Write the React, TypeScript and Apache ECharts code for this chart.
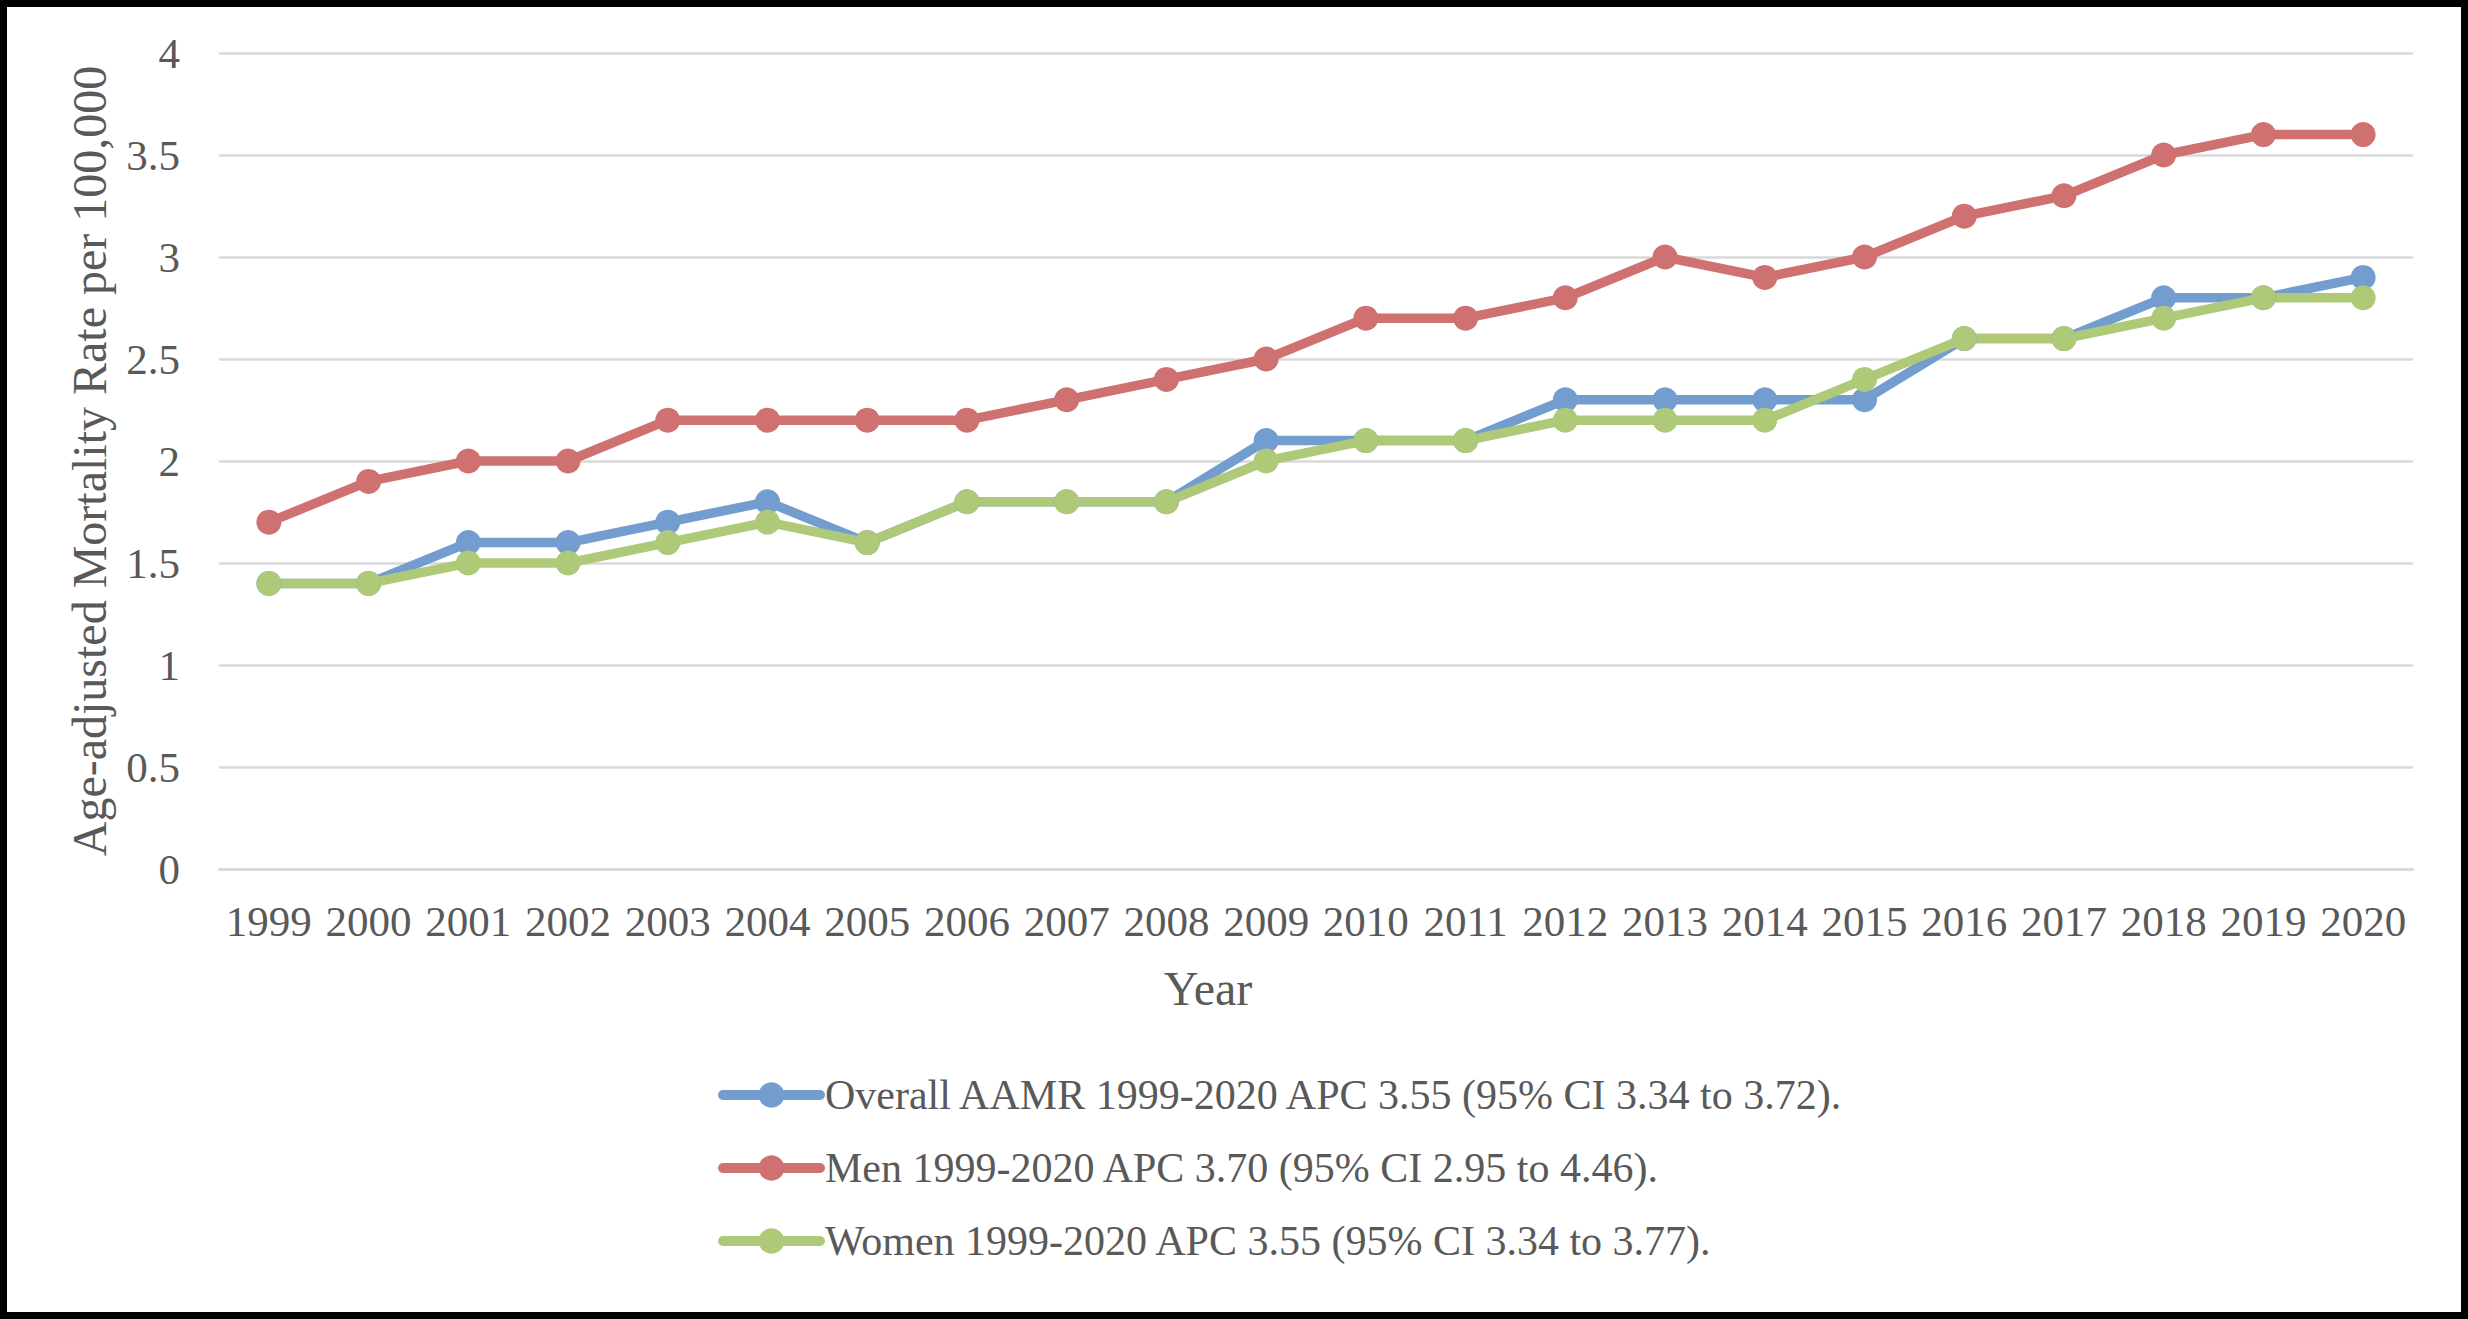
import React, { useEffect, useRef } from "react";
import * as echarts from "echarts";

const years = ["1999","2000","2001","2002","2003","2004","2005","2006","2007","2008","2009","2010","2011","2012","2013","2014","2015","2016","2017","2018","2019","2020"];
const overall = [1.4,1.4,1.6,1.6,1.7,1.8,1.6,1.8,1.8,1.8,2.1,2.1,2.1,2.3,2.3,2.3,2.3,2.6,2.6,2.8,2.8,2.9];
const men = [1.7,1.9,2.0,2.0,2.2,2.2,2.2,2.2,2.3,2.4,2.5,2.7,2.7,2.8,3.0,2.9,3.0,3.2,3.3,3.5,3.6,3.6];
const women = [1.4,1.4,1.5,1.5,1.6,1.7,1.6,1.8,1.8,1.8,2.0,2.1,2.1,2.2,2.2,2.2,2.4,2.6,2.6,2.7,2.8,2.8];
const seriesNames = [
  "Overall AAMR 1999-2020 APC 3.55 (95% CI 3.34 to 3.72).",
  "Men 1999-2020 APC 3.70 (95% CI 2.95 to 4.46).",
  "Women 1999-2020 APC 3.55 (95% CI 3.34 to 3.77).",
];
const colors = ["#739DCF", "#CF7170", "#AECA79"];

const FONT = "'Liberation Serif', serif";
const TXT = "#595959";

export default function App() {
  const ref = useRef<HTMLDivElement>(null);
  useEffect(() => {
    document.body.style.margin = "0";
    const chart = echarts.init(ref.current!, null, { renderer: "svg" });
    const mk = (name: string, data: number[], color: string) => ({
      name,
      type: "line",
      data,
      symbol: "circle",
      symbolSize: 25,
      itemStyle: { color },
      lineStyle: { color, width: 9.5 },
    });
    chart.setOption({
      animation: false,
      backgroundColor: "#ffffff",
      textStyle: { fontFamily: FONT },
      grid: { left: 219, right: 55, top: 53, bottom: 450 },
      xAxis: {
        type: "category",
        data: years,
        boundaryGap: true,
        axisLine: { show: true, lineStyle: { color: "#d9d9d9", width: 2.5 } },
        axisTick: { show: false },
        axisLabel: { color: TXT, fontSize: 43, fontFamily: FONT, margin: 31, interval: 0 },
        name: "Year",
        nameLocation: "middle",
        nameGap: 95,
        nameTextStyle: { color: TXT, fontSize: 48, fontFamily: FONT, padding: [0, 216, 0, 0] },
      },
      yAxis: {
        type: "value",
        min: 0,
        max: 4,
        interval: 0.5,
        axisLine: { show: false },
        axisTick: { show: false },
        splitLine: { lineStyle: { color: "#d9d9d9", width: 2.5 } },
        axisLabel: { color: TXT, fontSize: 43, fontFamily: FONT, margin: 39 },
        name: "Age-adjusted Mortality Rate per 100,000",
        nameLocation: "middle",
        nameGap: 106,
        nameTextStyle: { color: TXT, fontSize: 48, fontFamily: FONT },
      },
      legend: {
        orient: "vertical",
        left: 713,
        top: 1069,
        itemWidth: 97,
        itemHeight: 32,
        itemGap: 31,
        lineStyle: { width: 10, cap: "round" },
        textStyle: { color: TXT, fontSize: 42, fontFamily: FONT },
        data: seriesNames,
      },
      graphic: [
        {
          type: "rect",
          shape: { x: 0, y: 0, width: 2468, height: 1319 },
          style: { fill: "none", stroke: "#000000", lineWidth: 14 },
          silent: true,
          z: 100,
        },
      ],
      series: [
        mk(seriesNames[0], overall, colors[0]),
        mk(seriesNames[1], men, colors[1]),
        mk(seriesNames[2], women, colors[2]),
      ],
    });
    return () => chart.dispose();
  }, []);
  return <div ref={ref} style={{ width: 2468, height: 1319 }} />;
}
